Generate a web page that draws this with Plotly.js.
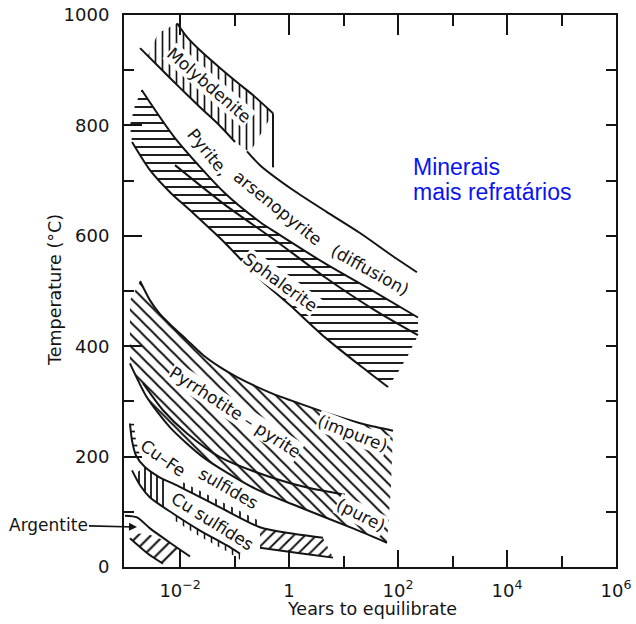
<!DOCTYPE html>
<html>
<head>
<meta charset="utf-8">
<script src="https://cdn.plot.ly/plotly-3.0.1.min.js"></script>
<style>html,body{margin:0;padding:0;background:#fff;}#chart{width:636px;height:624px;}</style>
</head>
<body>
<div id="chart"></div>
<script>
// ---------- axis ticks ----------
const xTickVals = [1e-2, 1, 1e2, 1e4, 1e6];
const xTickText = ['10<sup>−2</sup>', '1', '10<sup>2</sup>', '10<sup>4</sup>', '10<sup>6</sup>'];
const xMinorVals = [1e-1, 1e1, 1e3, 1e5];
const yTickVals = [0, 200, 400, 600, 800, 1000];
const yMinorVals = [100, 300, 500, 700, 900];
const yRightVals = [100, 200, 300, 400, 500, 600, 700, 800, 900];

// ---------- curves (years, °C) ----------
// Molybdenite
const molyTopX = [0.00877, 0.0134, 0.0263, 0.0540, 0.111, 0.217, 0.506];
const molyTopT = [985, 960, 931, 904, 878, 855, 822];
const molyEdgeX = [0.506, 0.506];
const molyEdgeT = [822, 724];
const molyBaseX = [0.506, 0.191];
const molyBaseT = [724, 751];
const molyLeftX = [0.00257, 0.00393];
const molyLeftT = [926, 967];
// Pyrite, arsenopyrite (upper line, two segments)
const pyrTopAX = [0.00184, 0.00428, 0.00995, 0.0232, 0.0540, 0.102];
const pyrTopAT = [940, 904, 868, 833, 799, 770];
const pyrTopBX = [0.169, 0.292, 1.18, 4.95, 20.0, 80.7, 222];
const pyrTopBT = [753, 728, 683, 643, 605, 563, 534];
// Sphalerite
const sphTopX = [0.00197, 0.00805, 0.0667, 0.292, 0.551, 4.56, 37.7, 232];
const sphTopT = [864, 777, 677, 625, 607, 550, 498, 452];
const sphMidX = [0.00805, 0.0667, 0.551, 4.56, 37.7, 232];
const sphMidT = [728, 656, 592, 525, 465, 420];
const sphBotX = [0.00131, 0.00280, 0.00652, 0.0165, 0.0667, 0.268, 1.04, 4.56, 20.0, 65.3];
const sphBotT = [770, 719, 679, 643, 587, 525, 474, 416, 365, 326];
const sphEdgeX = [232, 152, 99.6];
const sphEdgeT = [420, 383, 353];
const sphLeftX = [0.00120, 0.00149];
const sphLeftT = [800, 837];
// Pyrrhotite - pyrite
const pyImpX = [0.00184, 0.00280, 0.00428, 0.00652, 0.0134, 0.0263, 0.0540, 0.111, 0.446, 1.58, 7.57, 24.7, 80.7];
const pyImpT = [518, 483, 458, 440, 411, 384, 362, 344, 316, 296, 273, 258, 247];
const pyMidX = [0.00208, 0.00485, 0.0134, 0.0540, 0.446, 2.13, 10.6];
const pyMidT = [333, 284, 242, 199, 163, 144, 131];
const pyPureX = [0.00120, 0.00247, 0.00652, 0.0263, 0.217, 1.80, 14.9, 62.7];
const pyPureT = [369, 307, 253, 199, 144, 106, 70, 44];
const pyEdgeX = [74.1];
const pyEdgeT = [144];
const pyLeftX = [0.00120];
const pyLeftT = [483];
// Cu-Fe sulfides / Cu sulfides
const cfTopX = [0.00120, 0.00131, 0.00155, 0.00226, 0.00428, 0.00877, 0.0540, 0.292, 1.04, 4.19];
const cfTopT = [260, 229, 202, 181, 162, 148, 108, 72, 61, 53];
const cfBlockX = [0.292, 1.04, 4.19, 6.40, 1.58, 0.292];
const cfBlockT = [72, 61, 53, 17, 25, 35];
const cfBlockBotX = [0.292, 1.58, 6.40];
const cfBlockBotT = [35, 25, 17];
const cfTickX = [0.00877, 0.0540, 0.292, 0.292, 0.0540, 0.00877];
const cfTickT = [148, 108, 72, 83, 119, 159];
const cfLeftTickX = [0.00120, 0.00131, 0.00155, 0.00184, 0.00155, 0.00142];
const cfLeftTickT = [260, 229, 202, 202, 229, 260];
const cuBotX = [0.00131, 0.00184, 0.00280, 0.00740, 0.0232, 0.0724, 0.126];
const cuBotT = [175, 148, 126, 97, 66, 39, 24];
const cuBlockX = [0.00226, 0.00428, 0.00600, 0.00600, 0.00280, 0.00184, 0.00143];
const cuBlockT = [181, 162, 155, 103, 126, 148, 168];
const cuTickX = [0.00740, 0.0232, 0.0724, 0.126, 0.126, 0.0724, 0.0232, 0.00740];
const cuTickT = [97, 66, 39, 24, 13, 28, 55, 86];
// Argentite
const argTopX = [0.000972, 0.00162, 0.00280, 0.00652, 0.0152];
const argTopT = [93, 90, 70, 44, 19];
const argBotX = [0.00120, 0.00257, 0.00485];
const argBotT = [52, 24, 6];
const argHatchX = [0.00120, 0.00257, 0.00652, 0.0108, 0.00995, 0.00485, 0.00257, 0.00120];
const argHatchT = [61, 60, 44, 28, 24, 6, 24, 52];

// ---------- labels ----------
const bandLabels = ['Molybdenite', 'Pyrite,', 'arsenopyrite', '(diffusion)', 'Sphalerite',
  'Pyrrhotite – pyrite', '(impure)', '(pure)', 'Cu–Fe', 'sulfides', 'Cu sulfides'];
const blueLabels = ['Minerais', 'mais refratários'];

// ---------- helpers ----------
const rev = a => a.slice().reverse();
const INK = '#141414';
const L0 = -3.03, L1 = 6;
const PL = 124, PW = 492, PB = 567, PH = 552;
const px2paper = p => (p - PL) / PW;
const py2paper = p => (PB - p) / PH;

function hatch(x, y, shape, size, sol) {
  return {x: x, y: y, type: 'scatter', mode: 'lines', fill: 'toself', hoverinfo: 'skip',
    line: {width: 0, color: 'rgba(0,0,0,0)'}, fillcolor: 'rgba(255,255,255,0)',
    fillpattern: {shape: shape, size: size, solidity: sol, fgcolor: INK, bgcolor: 'rgba(255,255,255,0)'}};
}
function curve(x, y, w, smooth) {
  return {x: x, y: y, type: 'scatter', mode: 'lines', hoverinfo: 'skip',
    line: {color: INK, width: w || 2, shape: smooth === false ? 'linear' : 'spline', smoothing: 0.7}};
}

const traces = [
  hatch([...molyTopX, molyBaseX[1], ...rev(pyrTopAX.slice(1)), ...molyLeftX],
        [...molyTopT, molyBaseT[1], ...rev(pyrTopAT.slice(1)), ...molyLeftT], '|', 7, 0.24),
  hatch([...sphTopX, ...sphEdgeX, ...rev(sphBotX), ...sphLeftX],
        [...sphTopT, ...sphEdgeT, ...rev(sphBotT), ...sphLeftT], '-', 8, 0.24),
  hatch([...pyImpX, ...pyEdgeX, ...rev(pyPureX), ...pyLeftX],
        [...pyImpT, ...pyEdgeT, ...rev(pyPureT), ...pyLeftT], '\\', 8.5, 0.24),
  hatch(cfBlockX, cfBlockT, '/', 8, 0.24),
  hatch(cfTickX, cfTickT, '|', 8, 0.22),
  hatch(cfLeftTickX, cfLeftTickT, '-', 7, 0.25),
  hatch(cuBlockX, cuBlockT, '|', 6, 0.3),
  hatch(cuTickX, cuTickT, '|', 7, 0.22),
  hatch(argHatchX, argHatchT, '/', 9, 0.24),
  curve(molyTopX, molyTopT),
  curve(molyEdgeX, molyEdgeT, 2, false),
  curve(pyrTopAX, pyrTopAT),
  curve(pyrTopBX, pyrTopBT),
  curve(sphTopX, sphTopT),
  curve(sphMidX, sphMidT),
  curve(sphBotX, sphBotT),
  curve(pyImpX, pyImpT),
  curve(pyMidX, pyMidT),
  curve(pyPureX, pyPureT),
  curve(cfTopX, cfTopT),
  curve(cfBlockBotX, cfBlockBotT),
  curve(cuBotX, cuBotT),
  curve(argTopX, argTopT),
  curve(argBotX, argBotT),
  {x: [1], y: [500], xaxis: 'x2', yaxis: 'y2', type: 'scatter', mode: 'markers',
   marker: {opacity: 0}, hoverinfo: 'skip'}
];

const labelFont = {family: 'DejaVu Sans', size: 17, color: INK};
const labelSpec = [
  [0, 209, 85, 41, true], [1, 208, 152, 51, false], [2, 278, 208, 39, false], [3, 370, 270, 29, false],
  [4, 280, 282, 36, true], [5, 235, 412, 33, true], [6, 352, 433, 21, true], [7, 361, 515, 27, true],
  [8, 163, 458, 35, false], [9, 228, 488, 30, false], [10, 212, 521, 32, false]
];
const annotations = labelSpec.map(s => ({
  text: bandLabels[s[0]], xref: 'paper', yref: 'paper', x: px2paper(s[1]), y: py2paper(s[2]),
  xanchor: 'center', yanchor: 'middle', textangle: s[3], showarrow: false, font: labelFont,
  bgcolor: s[4] ? 'white' : 'rgba(0,0,0,0)', borderpad: 0
}));
annotations.push(
  {text: blueLabels[0], xref: 'paper', yref: 'paper', x: px2paper(411), y: py2paper(167),
   xanchor: 'left', yanchor: 'middle', showarrow: false,
   font: {family: 'Liberation Sans, Arial', size: 23, color: '#0a14f0'}},
  {text: blueLabels[1], xref: 'paper', yref: 'paper', x: px2paper(411), y: py2paper(192),
   xanchor: 'left', yanchor: 'middle', showarrow: false,
   font: {family: 'Liberation Sans, Arial', size: 23, color: '#0a14f0'}},
  {text: 'Temperature (°C)', xref: 'paper', yref: 'paper', x: px2paper(55), y: py2paper(290),
   xanchor: 'center', yanchor: 'middle', textangle: -90, showarrow: false,
   font: {family: 'DejaVu Sans', size: 17.5, color: INK}},
  {text: 'Years to equilibrate', xref: 'paper', yref: 'paper', x: px2paper(372), y: py2paper(609),
   xanchor: 'center', yanchor: 'middle', showarrow: false,
   font: {family: 'DejaVu Sans', size: 17.5, color: INK}},
  {text: 'Argentite', xref: 'paper', yref: 'paper', x: px2paper(137), y: py2paper(527),
   ax: -89, ay: -2, showarrow: true, arrowhead: 2, arrowsize: 1, arrowwidth: 1.6,
   arrowcolor: INK, standoff: 0, font: {family: 'DejaVu Sans', size: 17, color: INK}}
);

const axLine = {showline: true, linecolor: INK, linewidth: 2, showgrid: false, zeroline: false};
const layout = {
  width: 636, height: 624, showlegend: false,
  margin: {l: 124, r: 20, t: 15, b: 57, pad: 0},
  paper_bgcolor: 'white', plot_bgcolor: 'white',
  xaxis: Object.assign({}, axLine, {
    type: 'log', range: [L0, L1], tickmode: 'array', tickvals: xTickVals, ticktext: xTickText,
    ticks: 'inside', ticklen: 17, tickwidth: 2, tickcolor: INK, ticklabelstandoff: 6,
    tickfont: {family: 'DejaVu Sans', size: 18, color: INK},
    minor: {tickmode: 'array', tickvals: xMinorVals, ticks: 'inside', ticklen: 11, tickwidth: 2, tickcolor: INK, showgrid: false}
  }),
  xaxis2: Object.assign({}, axLine, {
    type: 'log', range: [L0, L1], overlaying: 'x', side: 'top', anchor: 'y2',
    tickmode: 'array', tickvals: xTickVals, ticks: 'inside', ticklen: 20, tickwidth: 2, tickcolor: INK,
    showticklabels: false,
    minor: {tickmode: 'array', tickvals: xMinorVals, ticks: 'inside', ticklen: 11, tickwidth: 2, tickcolor: INK, showgrid: false}
  }),
  yaxis: Object.assign({}, axLine, {
    range: [0, 1000], tickmode: 'array', tickvals: yTickVals,
    ticks: 'inside', ticklen: 18, tickwidth: 2, tickcolor: INK, ticklabelstandoff: 9,
    tickfont: {family: 'DejaVu Sans', size: 18, color: INK},
    minor: {tickmode: 'array', tickvals: yMinorVals, ticks: 'inside', ticklen: 10, tickwidth: 2, tickcolor: INK, showgrid: false}
  }),
  yaxis2: Object.assign({}, axLine, {
    range: [0, 1000], overlaying: 'y', side: 'right', anchor: 'x2',
    tickmode: 'array', tickvals: yRightVals, ticks: 'inside', ticklen: 10, tickwidth: 2, tickcolor: INK,
    showticklabels: false
  }),
  annotations: annotations
};

Plotly.newPlot('chart', traces, layout, {displayModeBar: false, staticPlot: true});
</script>
</body>
</html>
